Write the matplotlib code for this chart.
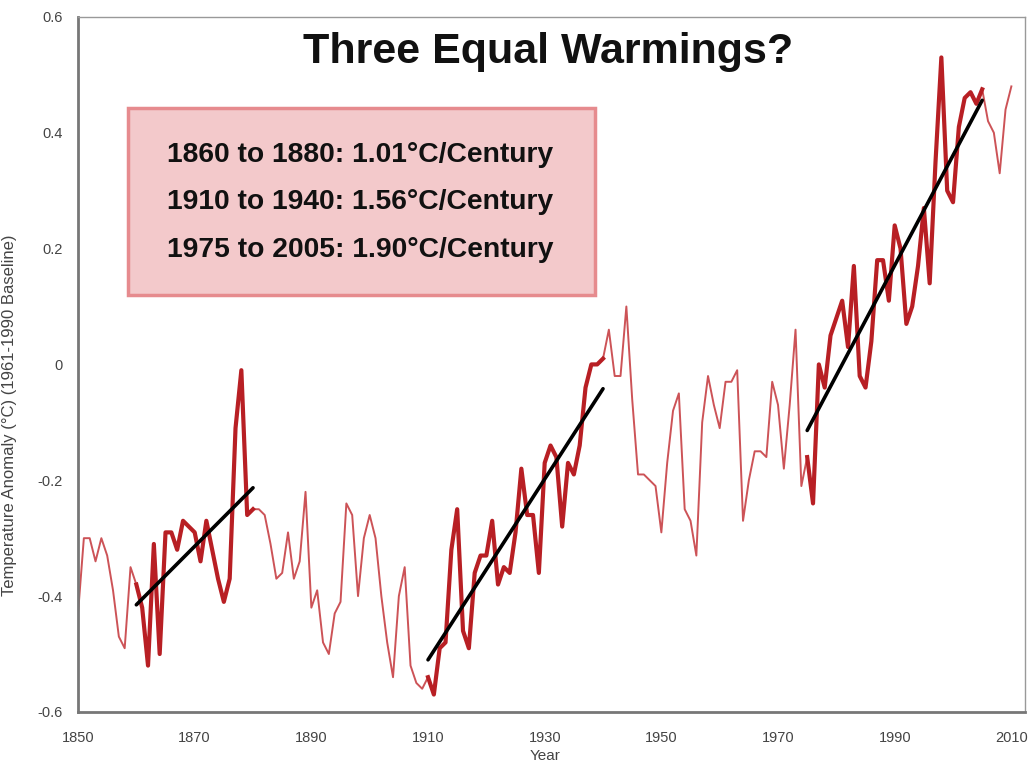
import numpy as np
import matplotlib
matplotlib.use("Agg")
from matplotlib import pyplot as plt
from matplotlib.patches import Rectangle

# Anomalia anual de temperatura (°C), base 1961-1990
anos = list(range(1850, 2011))
anomalia = [
    -0.43, -0.30, -0.30, -0.34, -0.30, -0.33, -0.39, -0.47, -0.49, -0.35,  # 1850
    -0.38, -0.42, -0.52, -0.31, -0.50, -0.29, -0.29, -0.32, -0.27, -0.28,  # 1860
    -0.29, -0.34, -0.27, -0.32, -0.37, -0.41, -0.37, -0.11, -0.01, -0.26,  # 1870
    -0.25, -0.25, -0.26, -0.31, -0.37, -0.36, -0.29, -0.37, -0.34, -0.22,  # 1880
    -0.42, -0.39, -0.48, -0.50, -0.43, -0.41, -0.24, -0.26, -0.40, -0.30,  # 1890
    -0.26, -0.30, -0.40, -0.48, -0.54, -0.40, -0.35, -0.52, -0.55, -0.56,  # 1900
    -0.54, -0.57, -0.49, -0.48, -0.32, -0.25, -0.46, -0.49, -0.36, -0.33,  # 1910
    -0.33, -0.27, -0.38, -0.35, -0.36, -0.29, -0.18, -0.26, -0.26, -0.36,  # 1920
    -0.17, -0.14, -0.16, -0.28, -0.17, -0.19, -0.14, -0.04, 0.00, 0.00,    # 1930
    0.01, 0.06, -0.02, -0.02, 0.10, -0.06, -0.19, -0.19, -0.20, -0.21,     # 1940
    -0.29, -0.17, -0.08, -0.05, -0.25, -0.27, -0.33, -0.10, -0.02, -0.07,  # 1950
    -0.11, -0.03, -0.03, -0.01, -0.27, -0.20, -0.15, -0.15, -0.16, -0.03,  # 1960
    -0.07, -0.18, -0.07, 0.06, -0.21, -0.16, -0.24, 0.00, -0.04, 0.05,     # 1970
    0.08, 0.11, 0.03, 0.17, -0.02, -0.04, 0.04, 0.18, 0.18, 0.11,          # 1980
    0.24, 0.20, 0.07, 0.10, 0.17, 0.27, 0.14, 0.35, 0.53, 0.30,            # 1990
    0.28, 0.41, 0.46, 0.47, 0.45, 0.475, 0.42, 0.40, 0.33, 0.44,           # 2000
    0.48,                                                                   # 2010
]

# Períodos de aquecimento e tendências (°C/século)
inicio = [1860, 1910, 1975]
fim = [1880, 1940, 2005]
valor_inicial = [-0.415, -0.51, -0.114]
tendencia = [1.01, 1.56, 1.90]

vermelho = "#b81f24"
plt.rcParams['font.family'] = ['Liberation Sans', 'DejaVu Sans']

fig = plt.figure(figsize=(10.32, 7.68), dpi=100)
ax = fig.add_axes([0.0756, 0.073, 0.9174, 0.905])

x = np.array(anos)
y = np.array(anomalia)
ax.plot(x, y, color="#c4353a", lw=1.4, alpha=0.85, zorder=2)
for a, b in zip(inicio, fim):
    m = (x >= a) & (x <= b)
    ax.plot(x[m], y[m], color=vermelho, lw=3.0, solid_joinstyle="round", zorder=3)

for a, b, v0, t in zip(inicio, fim, valor_inicial, tendencia):
    ax.plot([a, b], [v0, v0 + t * (b - a) / 100], color="black", lw=2.6,
            solid_capstyle="round", zorder=4)

ax.set_xlim(1850, 2012.3)
ax.set_ylim(-0.6, 0.6)
ax.set_xticks([1850, 1870, 1890, 1910, 1930, 1950, 1970, 1990, 2010])
ax.set_yticks([-0.6, -0.4, -0.2, 0, 0.2, 0.4, 0.6])
ax.set_yticklabels(["-0.6", "-0.4", "-0.2", "0", "0.2", "0.4", "0.6"])
ax.tick_params(length=0, labelsize=10.5, labelcolor="#444444")
ax.tick_params(axis="x", pad=14)
ax.tick_params(axis="y", pad=11)

for s in ["left", "bottom"]:
    ax.spines[s].set_color("#777777")
    ax.spines[s].set_linewidth(2)
for s in ["top", "right"]:
    ax.spines[s].set_color("#999999")
    ax.spines[s].set_linewidth(1)

ax.set_xlabel("Year", fontsize=11, color="#444444")
ax.xaxis.set_label_coords(0.493, -0.054)
ax.set_ylabel("Temperature Anomaly (°C) (1961-1990 Baseline)", fontsize=12,
              color="#444444")
ax.yaxis.set_label_coords(-0.064, 0.427)

fig.text(0.531, 0.932, "Three Equal Warmings?", ha="center", va="center",
         fontsize=31, fontweight="bold", color="#111111")

caixa = Rectangle((128 / 1032, 1 - 295 / 768), (595 - 128) / 1032, (295 - 108) / 768,
                  transform=fig.transFigure, facecolor="#f3c9cb",
                  edgecolor="#e68b8e", lw=2.5, zorder=5)
fig.patches.append(caixa)

linhas_y = [155, 202, 250]
for a, b, t, py in zip(inicio, fim, tendencia, linhas_y):
    fig.text(167 / 1032, 1 - py / 768, f"{a} to {b}: {t:.2f}°C/Century",
             ha="left", va="center", fontsize=20.3, fontweight="bold",
             color="#111111", zorder=6)

fig.savefig("out.png", dpi=100)
